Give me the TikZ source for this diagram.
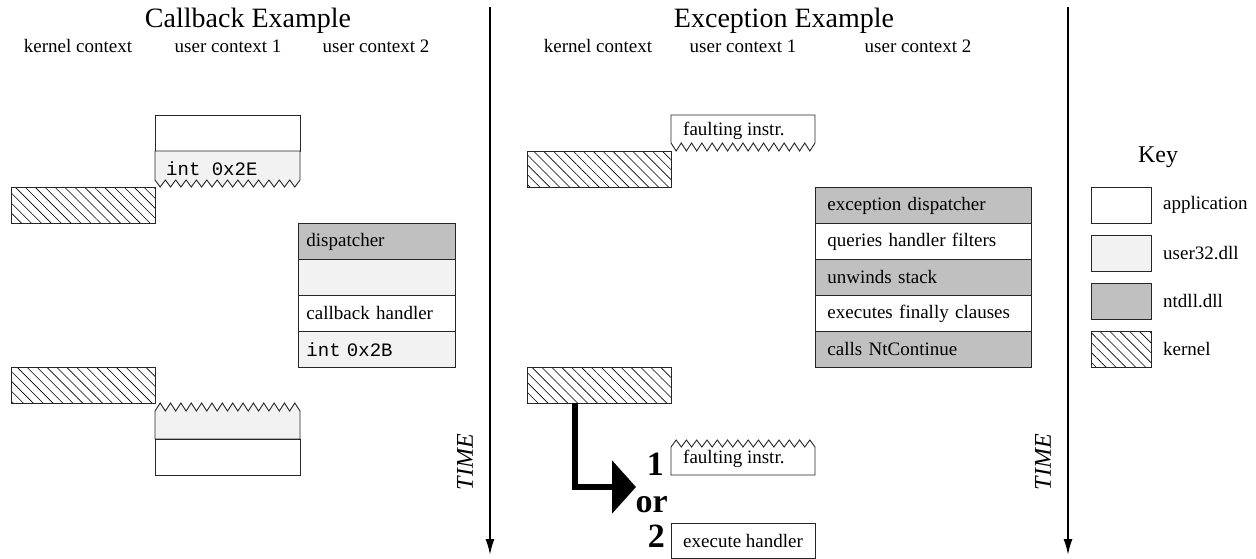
\documentclass[tikz,border=0pt]{standalone}
\usepackage{fontspec}
\setmainfont{Liberation Serif}
\setmonofont{Liberation Mono}
\usetikzlibrary{patterns.meta,arrows.meta}
\definecolor{ulight}{HTML}{F2F2F2}
\definecolor{ntgray}{HTML}{C0C0C0}
\begin{document}
\begin{tikzpicture}[x=1pt,y=-1pt,
  font=\fontsize{19}{22}\selectfont,
  edge/.style={draw=black!85, line width=0.9pt},
  rowL/.style={edge, anchor=north west, minimum width=157pt, minimum height=36pt,
    inner xsep=8pt, inner ysep=0pt, text width=141pt, align=left},
  rowR/.style={edge, anchor=north west, minimum width=216pt, minimum height=36pt,
    inner xsep=12pt, inner ysep=0pt, text width=192pt, align=left},
  kbox/.style={edge, anchor=north west, minimum width=144pt, minimum height=36pt,
    inner sep=0pt, pattern={Lines[angle=-45,distance=7pt,line width=0.6pt]}},
  keybox/.style={edge, anchor=north west, minimum width=60pt, minimum height=36pt, inner sep=0pt},
  keylabel/.style={anchor=west, inner sep=0pt},
  title/.style={font=\fontsize{28}{32}\selectfont},
  ctx/.style={inner sep=0pt},
  timeline/.style={line width=1.8pt, -{Latex[length=16pt,width=9pt]}},
  timelabel/.style={rotate=90, font=\fontsize{24}{28}\selectfont\itshape},
  big/.style={font=\fontsize{34}{38}\selectfont\bfseries, inner sep=0pt},
  boxtext/.style={anchor=west, inner sep=0pt}
]
\useasboundingbox (0,0) rectangle (1256,558);

% ---------- dividers / time arrows ----------
\coordinate (t1s) at (490,7);
\coordinate (t1e) at (490,555);
\coordinate (t2s) at (1068,7);
\coordinate (t2e) at (1068,555);
\draw[timeline] (t1s) -- (t1e);
\draw[timeline] (t2s) -- (t2e);
\node[timelabel] (time1) at (465,462) {TIME};
\node[timelabel] (time2) at (1043,462) {TIME};

% ---------- titles ----------
\node[title] (ttl1) at (248,21) {Callback Example};
\node[title] (ttl2) at (784,21) {Exception Example};

\node[ctx] (c1) at (78,46) {kernel context};
\node[ctx] (c2) at (228,46) {user context 1};
\node[ctx] (c3) at (376,46) {user context 2};
\node[ctx] (c4) at (598,46) {kernel context};
\node[ctx] (c5) at (743,46) {user context 1};
\node[ctx] (c6) at (918,46) {user context 2};

% ---------- Callback example ----------
\draw[edge, fill=white] (155,115) rectangle (300,151);
\filldraw[edge, fill=ulight] (155,151) -- (155,180)
  \foreach \i in {1,...,14} { -- ++(5.179,7) -- ++(5.179,-7) } -- (300,151) -- cycle;
\node[boxtext] (int2e) at (166,169) {\ttfamily int 0x2E};

\node[kbox] (k1) at (11,187) {};

\node[rowL, fill=ntgray] (d1) at (298,223) {dispatcher};
\node[rowL, fill=ulight] (d2) at (298,259) {};
\node[rowL, fill=white] (d3) at (298,295) {callback handler};
\node[rowL, fill=ulight] (d4) at (298,331) {\mbox{\ttfamily int 0x2B}};

\node[kbox] (k2) at (11,367) {};

\filldraw[edge, fill=ulight] (155,439) -- (155,411)
  \foreach \i in {1,...,14} { -- ++(5.179,-8) -- ++(5.179,8) } -- (300,439) -- cycle;
\draw[edge, fill=white] (155,439) rectangle (300,475);

% ---------- Exception example ----------
\filldraw[edge, fill=white] (671,115) -- (671,143)
  \foreach \i in {1,...,14} { -- ++(5.143,8) -- ++(5.143,-8) } -- (815,115) -- cycle;
\node[boxtext] (f1) at (683,131) {faulting instr.};

\node[kbox] (k3) at (527,151) {};

\node[rowR, fill=ntgray] (e1) at (815,187) {exception dispatcher};
\node[rowR, fill=white]  (e2) at (815,223) {queries handler filters};
\node[rowR, fill=ntgray] (e3) at (815,259) {unwinds stack};
\node[rowR, fill=white]  (e4) at (815,295) {executes finally clauses};
\node[rowR, fill=ntgray] (e5) at (815,331) {calls NtContinue};

\node[kbox] (k4) at (527,367) {};

\filldraw[edge, fill=white] (671,475) -- (671,447)
  \foreach \i in {1,...,14} { -- ++(5.143,-7) -- ++(5.143,7) } -- (815,475) -- cycle;
\node[boxtext] (f2) at (683,459) {faulting instr.};

\node[edge, anchor=north west, minimum width=144pt, minimum height=35pt, inner sep=0pt, fill=white] (eh) at (671,523) {};
\node[boxtext] (ehtext) at (683,541) {execute handler};

\coordinate (arrS) at (575,403);
\coordinate (arrE) at (636,487);
\draw[line width=6.5pt, line join=miter, -{Triangle[length=24pt,width=52pt]}] (arrS) |- (arrE);

\node[big, anchor=base east] (n1) at (664,475) {1};
\node[big, anchor=base east] (nor) at (668,512) {or};
\node[big, anchor=base east] (n2) at (665,547) {2};

% ---------- Key ----------
\node[font=\fontsize{24}{28}\selectfont] (key) at (1158,157) {Key};
\node[keybox, fill=white]  (ka) at (1091,187) {};
\node[keybox, fill=ulight] (ku) at (1091,235) {};
\node[keybox, fill=ntgray] (kn) at (1091,283) {};
\node[keybox, pattern={Lines[angle=-45,distance=7pt,line width=0.6pt]}] (kk) at (1091,331) {};
\node[keylabel] (la) at (1163,205) {application};
\node[keylabel] (lu) at (1163,253) {user32.dll};
\node[keylabel] (ln) at (1163,301) {ntdll.dll};
\node[keylabel] (lk) at (1163,349) {kernel};
\end{tikzpicture}
\end{document}
